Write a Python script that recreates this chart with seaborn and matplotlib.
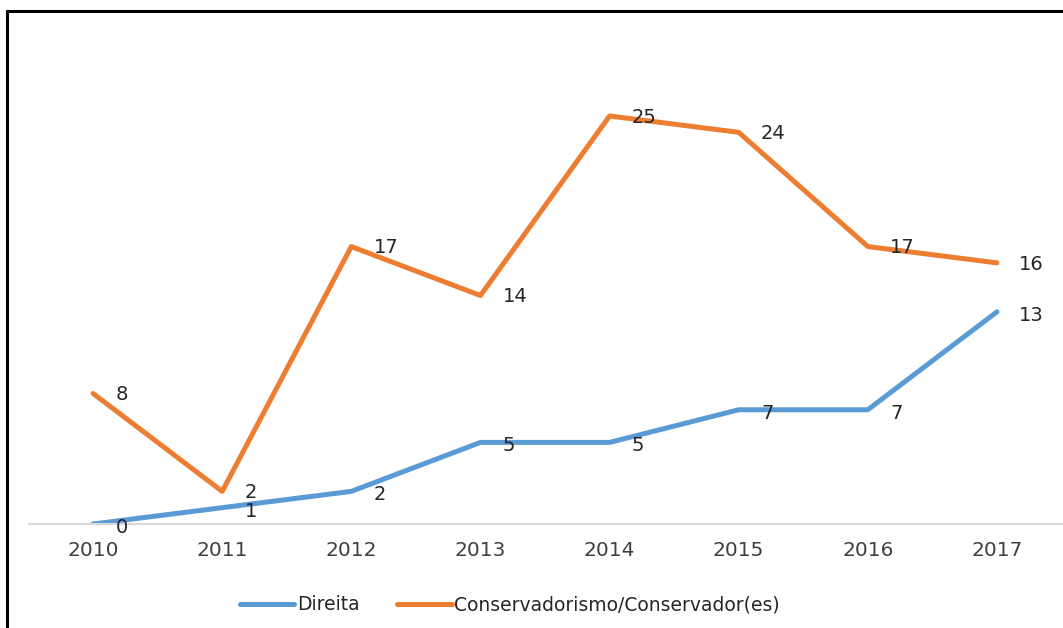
import matplotlib
matplotlib.use("Agg")
import matplotlib.pyplot as plt
from matplotlib.lines import Line2D
import seaborn as sns
import pandas as pd

years = ["2010", "2011", "2012", "2013", "2014", "2015", "2016", "2017"]
direita = [0, 1, 2, 5, 5, 7, 7, 13]
conservador = [8, 2, 17, 14, 25, 24, 17, 16]
series_names = ["Direita", "Conservadorismo/Conservador(es)"]
colors = ["#5B9BD5", "#ED7D31"]

sns.set_theme(style="white")
plt.rcParams["font.family"] = ["DejaVu Sans"]

df = pd.DataFrame({"Ano": years * 2,
                   "Valor": direita + conservador,
                   "Série": [series_names[0]] * len(years) + [series_names[1]] * len(years)})

fig = plt.figure(figsize=(10.63, 6.28), dpi=100)
ax = fig.add_axes([28.5 / 1063, 1 - 524 / 628, 1033 / 1063, (524 - 34.4) / 628])
sns.lineplot(data=df, x="Ano", y="Valor", hue="Série", palette=colors,
             linewidth=3.6, ax=ax, legend=True, sort=False)
ax.set_xlim(-0.5, len(years) - 0.5)
ax.set_ylim(0, 30)
ax.set_yticks([])
ax.set_xlabel("")
ax.set_ylabel("")
for s in ["top", "right", "left"]:
    ax.spines[s].set_visible(False)
ax.spines["bottom"].set_color("#D9D9D9")
ax.spines["bottom"].set_linewidth(1.5)
ax.tick_params(axis="x", length=0, labelsize=14.5, labelcolor="#404040", pad=12)

for vals, dy in [(direita, -2.5), (conservador, -1.0)]:
    for i, v in enumerate(vals):
        ax.annotate(str(v), (i, v), xytext=(16, dy), textcoords="offset points",
                    ha="left", va="center", fontsize=14, color="#262626",
                    annotation_clip=False)

ax.legend_.remove()
handles = [Line2D([], [], color=c, linewidth=3.6, solid_capstyle="round") for c in colors]
fig.legend(handles, series_names, loc="center", ncol=2,
           bbox_to_anchor=(510 / 1063, 1 - 605 / 628), frameon=False,
           fontsize=13.5, handlelength=2.9, handletextpad=0.15, columnspacing=2.0,
           labelcolor="#262626")

fig.add_artist(Line2D([7 / 1063, 7 / 1063], [0, 1 - 11 / 628], transform=fig.transFigure,
                      color="black", linewidth=2.2))
fig.add_artist(Line2D([7 / 1063, 1], [1 - 11 / 628, 1 - 11 / 628], transform=fig.transFigure,
                      color="black", linewidth=2.2))

fig.savefig("out.png", dpi=100, facecolor="white")
